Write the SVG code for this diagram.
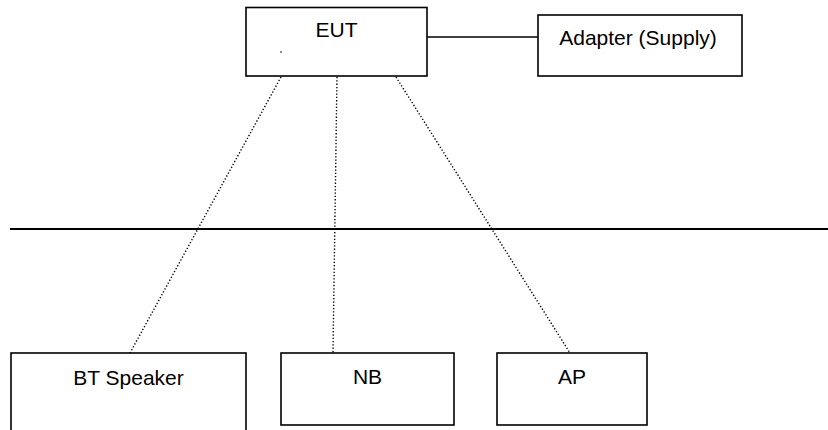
<svg xmlns="http://www.w3.org/2000/svg" width="828" height="430" viewBox="0 0 828 430">
<style>
.box{fill:#fff;stroke:#000;stroke-width:1.6}
.lbl{font-family:"Liberation Sans",Arial,sans-serif;font-size:21px;fill:#000;text-anchor:middle}
.solid{stroke:#000;stroke-width:1.6;fill:none}
.dot{stroke:#000;stroke-width:1.4;stroke-dasharray:1.3 2;fill:none}
</style>
<rect width="828" height="430" fill="#fff"/>
<g id="connectors">
<line class="solid" x1="427" y1="37" x2="538" y2="37"/>
<line class="dot" x1="281" y1="77" x2="130" y2="353"/>
<line class="dot" x1="337" y1="77" x2="333" y2="353"/>
<line class="dot" x1="396" y1="77" x2="570" y2="353"/>
<line x1="10" y1="229" x2="828" y2="229" stroke="#000" stroke-width="2"/>
</g>
<g id="eut">
<rect class="box" x="246" y="7.5" width="181" height="68.5"/>
<text class="lbl" x="336.5" y="37">EUT</text>
<circle cx="281" cy="52" r="0.8" fill="#000"/>
</g>
<g id="adapter">
<rect class="box" x="538" y="15" width="204" height="61"/>
<text class="lbl" x="638" y="45">Adapter (Supply)</text>
</g>
<g id="bt-speaker">
<rect class="box" x="11" y="353" width="235" height="80"/>
<text class="lbl" x="128.5" y="385">BT Speaker</text>
</g>
<g id="nb">
<rect class="box" x="281" y="353" width="173" height="72"/>
<text class="lbl" x="367.5" y="384">NB</text>
</g>
<g id="ap">
<rect class="box" x="497" y="353" width="150" height="72"/>
<text class="lbl" x="572" y="384">AP</text>
</g>
</svg>
